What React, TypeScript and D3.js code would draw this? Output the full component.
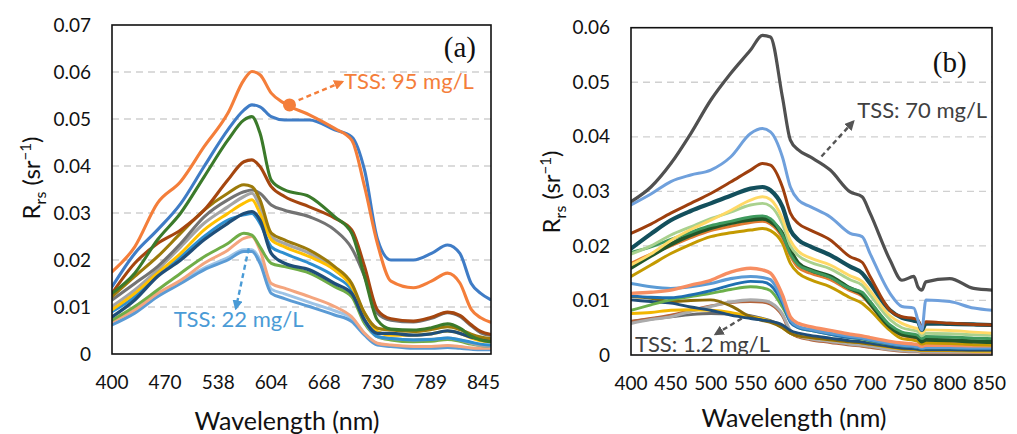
import React from 'react';
import * as d3 from 'd3';

// ---------- Panel (a) data ----------
const WL_A = [400, 430, 460, 490, 520, 550, 570, 580, 590, 604, 620, 650, 680, 700, 715, 730, 745, 770, 790, 807, 820, 832, 842, 852];
const X_TICKS_A = [400, 470, 538, 604, 668, 730, 789, 845];
const Y_TICKS_A = [0, 0.01, 0.02, 0.03, 0.04, 0.05, 0.06, 0.07];

const A_LIGHTBLUE = [0.0062, 0.0087, 0.0122, 0.015, 0.0179, 0.02, 0.0218, 0.0218, 0.0193, 0.0129, 0.0118, 0.0101, 0.0083, 0.0069, 0.004, 0.0019, 0.0016, 0.0012, 0.0012, 0.0014, 0.0012, 0.001, 0.0009, 0.0009];
const A_PALEBLUE = [0.0066, 0.0091, 0.0126, 0.0155, 0.0183, 0.0205, 0.0222, 0.0222, 0.02, 0.0138, 0.0128, 0.011, 0.0092, 0.0076, 0.0044, 0.0022, 0.0018, 0.0015, 0.0015, 0.0017, 0.0015, 0.0012, 0.0011, 0.0011];
const A_SALMON = [0.0069, 0.0094, 0.0129, 0.0157, 0.0193, 0.0221, 0.0246, 0.025, 0.0221, 0.015, 0.014, 0.0122, 0.0101, 0.0079, 0.0044, 0.0023, 0.0019, 0.0016, 0.0016, 0.0018, 0.0016, 0.0013, 0.0012, 0.0012];
const A_GREEN = [0.0072, 0.0101, 0.0136, 0.0172, 0.0207, 0.0235, 0.0257, 0.0253, 0.0228, 0.0193, 0.0186, 0.0172, 0.0143, 0.0122, 0.0065, 0.0037, 0.003, 0.0026, 0.0027, 0.0031, 0.0027, 0.0021, 0.0018, 0.0016];
const A_MEDBLUE = [0.009, 0.0122, 0.0172, 0.0207, 0.025, 0.0285, 0.0296, 0.0299, 0.0278, 0.0228, 0.0214, 0.0193, 0.0165, 0.0136, 0.0072, 0.0037, 0.0033, 0.003, 0.0031, 0.0034, 0.003, 0.0025, 0.0021, 0.0019];
const A_NAVY = [0.0079, 0.0115, 0.0165, 0.02, 0.0243, 0.0278, 0.0299, 0.0303, 0.0285, 0.0214, 0.0193, 0.0179, 0.015, 0.0129, 0.0072, 0.0044, 0.0044, 0.004, 0.0043, 0.0049, 0.0044, 0.0036, 0.0032, 0.003];
const A_GOLD = [0.0094, 0.0129, 0.0172, 0.0214, 0.0264, 0.0299, 0.0321, 0.0328, 0.0299, 0.0243, 0.0228, 0.0207, 0.0179, 0.0143, 0.0087, 0.0048, 0.004, 0.004, 0.0043, 0.0049, 0.0044, 0.0034, 0.0028, 0.0026];
const A_LIGHTGREY = [0.0101, 0.0136, 0.0179, 0.0228, 0.0278, 0.0313, 0.0335, 0.0342, 0.0313, 0.025, 0.0235, 0.0214, 0.0179, 0.0143, 0.0072, 0.0037, 0.0033, 0.003, 0.0031, 0.0034, 0.003, 0.0023, 0.0018, 0.0016];
const A_OLIVE = [0.0122, 0.0165, 0.0207, 0.0257, 0.0306, 0.0342, 0.036, 0.0356, 0.0328, 0.0257, 0.0243, 0.0221, 0.0186, 0.015, 0.0087, 0.0055, 0.0051, 0.0048, 0.0052, 0.0058, 0.0052, 0.0042, 0.0036, 0.0033];
const A_GREY = [0.0115, 0.015, 0.0186, 0.0235, 0.0292, 0.0328, 0.0345, 0.0349, 0.0342, 0.0317, 0.0306, 0.0292, 0.0264, 0.0225, 0.0165, 0.0087, 0.0072, 0.0068, 0.0076, 0.0088, 0.008, 0.006, 0.0045, 0.004];
const A_BROWN = [0.0129, 0.0193, 0.0235, 0.0264, 0.0306, 0.037, 0.0409, 0.0413, 0.0399, 0.0356, 0.0335, 0.0313, 0.0289, 0.0264, 0.0186, 0.0094, 0.0075, 0.007, 0.0078, 0.0089, 0.0082, 0.0062, 0.0048, 0.0042];
const A_DKGREEN = [0.0129, 0.0172, 0.0243, 0.03, 0.0377, 0.0455, 0.0498, 0.0505, 0.047, 0.037, 0.0349, 0.0335, 0.0292, 0.0257, 0.0165, 0.0072, 0.0053, 0.0051, 0.0056, 0.0064, 0.0055, 0.0038, 0.003, 0.0026];
const A_BLUE = [0.0143, 0.0214, 0.0264, 0.032, 0.0399, 0.0477, 0.0519, 0.053, 0.0526, 0.0505, 0.0498, 0.0498, 0.0477, 0.0462, 0.0391, 0.0245, 0.02, 0.02, 0.0214, 0.0232, 0.0214, 0.015, 0.0129, 0.0116];
const A_ORANGE = [0.0175, 0.0228, 0.0321, 0.0367, 0.0441, 0.0512, 0.0583, 0.0601, 0.0594, 0.0555, 0.0533, 0.0509, 0.048, 0.0455, 0.0356, 0.0235, 0.0155, 0.0141, 0.0155, 0.0172, 0.0151, 0.0095, 0.0077, 0.0068];

// ---------- Panel (b) data ----------
const WL_B = [400, 425, 450, 475, 500, 525, 550, 565, 575, 590, 600, 610, 625, 650, 675, 690, 700, 725, 740, 755, 760, 765, 770, 800, 830, 853];
const X_TICKS_B = [400, 450, 500, 550, 600, 650, 700, 750, 800, 850];
const Y_TICKS_B = [0, 0.01, 0.02, 0.03, 0.04, 0.05, 0.06];

const B_DKGREY_LOW = [0.0061, 0.0066, 0.007, 0.0074, 0.0076, 0.0075, 0.0072, 0.0067, 0.0063, 0.0053, 0.004, 0.0034, 0.003, 0.0025, 0.0021, 0.0019, 0.0017, 0.0012, 0.001, 0.0009, 0.0009, 0.0008, 0.0008, 0.0008, 0.0008, 0.0008];
const B_RUST = [0.0062, 0.0067, 0.0073, 0.0082, 0.009, 0.0096, 0.0098, 0.0097, 0.0093, 0.0072, 0.0042, 0.0033, 0.0028, 0.0023, 0.0018, 0.0016, 0.0014, 0.0009, 0.0007, 0.0006, 0.0006, 0.0005, 0.0005, 0.0005, 0.0005, 0.0005];
const B_LTGREY = [0.0058, 0.0065, 0.007, 0.008, 0.0089, 0.0097, 0.0101, 0.01, 0.0096, 0.0075, 0.0045, 0.0035, 0.003, 0.0025, 0.002, 0.0018, 0.0016, 0.001, 0.0008, 0.0007, 0.0007, 0.0006, 0.0006, 0.0006, 0.0006, 0.0006];
const B_GOLD_LOW = [0.0076, 0.0078, 0.0082, 0.0083, 0.0082, 0.0078, 0.007, 0.0066, 0.0062, 0.005, 0.004, 0.0035, 0.0032, 0.0028, 0.0024, 0.0022, 0.002, 0.0014, 0.0011, 0.001, 0.0009, 0.0008, 0.0008, 0.0008, 0.0007, 0.0007];
const B_OLIVE_LOW = [0.0107, 0.0104, 0.0098, 0.01, 0.0101, 0.009, 0.007, 0.0063, 0.006, 0.005, 0.004, 0.0035, 0.0032, 0.0028, 0.0024, 0.0022, 0.002, 0.0015, 0.0012, 0.0011, 0.001, 0.0009, 0.0009, 0.0009, 0.0009, 0.0009];
const B_NAVY_LOW = [0.0101, 0.0098, 0.0095, 0.0088, 0.0082, 0.0073, 0.0067, 0.0064, 0.0062, 0.0055, 0.0045, 0.004, 0.0036, 0.0031, 0.0026, 0.0024, 0.0022, 0.0016, 0.0013, 0.0012, 0.0011, 0.001, 0.001, 0.001, 0.0009, 0.0009];
const B_GREEN_LOW = [0.0082, 0.0092, 0.0101, 0.0107, 0.0113, 0.012, 0.0125, 0.0123, 0.0118, 0.0088, 0.0062, 0.005, 0.0045, 0.0038, 0.0032, 0.0029, 0.0026, 0.002, 0.0017, 0.0015, 0.0014, 0.0012, 0.0013, 0.0013, 0.0012, 0.0012];
const B_DKBLUE_LOW = [0.0108, 0.0106, 0.0105, 0.011, 0.0118, 0.0128, 0.0135, 0.0134, 0.0128, 0.0095, 0.006, 0.005, 0.0045, 0.0038, 0.0032, 0.003, 0.0027, 0.002, 0.0017, 0.0015, 0.0014, 0.0012, 0.0013, 0.0013, 0.0012, 0.0012];
const B_BLUE_LOW = [0.0131, 0.0125, 0.0122, 0.0125, 0.0131, 0.014, 0.0144, 0.0142, 0.0138, 0.01, 0.0064, 0.0052, 0.0047, 0.004, 0.0034, 0.0031, 0.0028, 0.0021, 0.0018, 0.0016, 0.0015, 0.0013, 0.0014, 0.0014, 0.0013, 0.0013];
const B_SALMON_LOW = [0.0113, 0.0115, 0.0119, 0.0128, 0.0137, 0.0152, 0.0159, 0.0156, 0.015, 0.011, 0.007, 0.0058, 0.0052, 0.0045, 0.0038, 0.0035, 0.0032, 0.0025, 0.0022, 0.002, 0.0019, 0.0016, 0.0018, 0.0018, 0.0017, 0.0017];
const B_GOLD = [0.0144, 0.0165, 0.0186, 0.0203, 0.0217, 0.0224, 0.0229, 0.0232, 0.0228, 0.0205, 0.0168, 0.015, 0.0138, 0.0125, 0.0105, 0.0095, 0.0082, 0.0045, 0.003, 0.0027, 0.0025, 0.002, 0.0022, 0.0021, 0.0019, 0.0018];
const B_ORANGE = [0.0168, 0.0185, 0.02, 0.0215, 0.0228, 0.0236, 0.0243, 0.0245, 0.024, 0.0215, 0.0182, 0.016, 0.015, 0.0138, 0.0118, 0.0108, 0.0092, 0.005, 0.0036, 0.0032, 0.003, 0.0024, 0.0027, 0.0026, 0.0024, 0.0023];
const B_DKGREEN = [0.016, 0.0182, 0.0203, 0.022, 0.0233, 0.0242, 0.0248, 0.025, 0.0245, 0.0222, 0.0192, 0.0168, 0.0156, 0.0144, 0.0122, 0.0112, 0.0095, 0.0052, 0.0038, 0.0034, 0.0032, 0.0025, 0.0028, 0.0027, 0.0025, 0.0024];
const B_GREEN = [0.0188, 0.0198, 0.0212, 0.0225, 0.0237, 0.0245, 0.0253, 0.0255, 0.025, 0.022, 0.0185, 0.0165, 0.0155, 0.0142, 0.0122, 0.0115, 0.0098, 0.0055, 0.0042, 0.0038, 0.0036, 0.003, 0.0034, 0.0033, 0.0031, 0.003];
const B_LTGREEN = [0.0185, 0.02, 0.022, 0.0235, 0.025, 0.0262, 0.0275, 0.0278, 0.0273, 0.024, 0.02, 0.0182, 0.017, 0.0158, 0.0138, 0.0128, 0.011, 0.0065, 0.005, 0.0045, 0.0043, 0.0035, 0.004, 0.0039, 0.0037, 0.0036];
const B_PALEYELLOW = [0.0165, 0.0185, 0.021, 0.023, 0.0247, 0.0265, 0.0284, 0.029, 0.0285, 0.025, 0.021, 0.019, 0.0178, 0.0165, 0.0145, 0.0135, 0.0118, 0.0072, 0.0058, 0.005, 0.0048, 0.004, 0.0046, 0.0045, 0.0042, 0.004];
const B_DKTEAL = [0.0195, 0.0222, 0.0247, 0.0264, 0.0278, 0.0292, 0.0305, 0.0308, 0.0302, 0.0272, 0.0229, 0.0211, 0.0199, 0.0183, 0.0162, 0.015, 0.0131, 0.0082, 0.0068, 0.0063, 0.0061, 0.0046, 0.0058, 0.0057, 0.0056, 0.0055];
const B_BROWN = [0.0223, 0.024, 0.026, 0.0278, 0.0296, 0.0317, 0.0339, 0.0351, 0.0348, 0.0308, 0.026, 0.0241, 0.0229, 0.0211, 0.018, 0.017, 0.0144, 0.0082, 0.007, 0.0067, 0.0064, 0.0052, 0.0061, 0.0058, 0.0056, 0.0055];
const B_LTBLUE = [0.0275, 0.0295, 0.0318, 0.033, 0.0339, 0.0363, 0.0406, 0.0415, 0.0409, 0.0363, 0.0308, 0.0284, 0.0272, 0.0253, 0.0223, 0.0217, 0.0186, 0.0113, 0.0089, 0.0086, 0.0064, 0.0046, 0.0101, 0.0098, 0.0086, 0.0082];
const B_DKGREY = [0.0281, 0.0308, 0.0351, 0.0406, 0.0467, 0.0516, 0.0559, 0.0586, 0.0583, 0.0473, 0.0394, 0.0376, 0.0363, 0.0339, 0.0299, 0.029, 0.026, 0.0174, 0.0137, 0.0144, 0.0125, 0.0119, 0.0134, 0.014, 0.0122, 0.0119];

// ---------- annotations (data coordinates) ----------
const A_DOT = { wl: 626, v: 0.053 };
const A_ARROW_95 = { from: [637, 0.054], to: [689, 0.0579] };
const A_LABEL_95 = { wl: 691, v: 0.0563, text: 'TSS: 95 mg/L' };
const A_ARROW_22 = { from: [576, 0.0225], to: [560, 0.0097] };
const A_LABEL_22 = { wl: 481, v: 0.0057, text: 'TSS: 22 mg/L' };
const A_TAG = { wl: 820, v: 0.0632, text: '(a)' };

const B_ARROW_70 = { from: [639, 0.0364], to: [679, 0.0428] };
const B_LABEL_70 = { wl: 684, v: 0.0434, text: 'TSS: 70 mg/L' };
const B_ARROW_12 = { from: [539, 0.0067], to: [506, 0.0038] };
const B_LABEL_12 = { wl: 405, v: 0.0005, text: 'TSS: 1.2 mg/L' };
const B_TAG = { wl: 800, v: 0.0519, text: '(b)' };

type Series = { values: number[]; color: string; width: number };

const SERIES_A: Series[] = [
  { values: A_PALEBLUE, color: '#9DC3E6', width: 3 },
  { values: A_LIGHTBLUE, color: '#5B9BD5', width: 3 },
  { values: A_SALMON, color: '#F4A57E', width: 3 },
  { values: A_GREEN, color: '#70AD47', width: 3 },
  { values: A_LIGHTGREY, color: '#A5A5A5', width: 3.2 },
  { values: A_MEDBLUE, color: '#2E8FD0', width: 3 },
  { values: A_GOLD, color: '#FFC000', width: 3 },
  { values: A_NAVY, color: '#1F4E79', width: 3.3 },
  { values: A_GREY, color: '#737373', width: 3.1 },
  { values: A_OLIVE, color: '#9C7A0A', width: 3.1 },
  { values: A_BROWN, color: '#A5460F', width: 3.1 },
  { values: A_DKGREEN, color: '#3B7A2A', width: 3.1 },
  { values: A_BLUE, color: '#3F7CC6', width: 3.1 },
  { values: A_ORANGE, color: '#F47E3A', width: 3.1 },
];

const SERIES_B: Series[] = [
  { values: B_DKGREY_LOW, color: '#6B6B6B', width: 2.9 },
  { values: B_RUST, color: '#B4633A', width: 2.9 },
  { values: B_LTGREY, color: '#ABABAB', width: 3.1 },
  { values: B_GOLD_LOW, color: '#F2B600', width: 2.9 },
  { values: B_OLIVE_LOW, color: '#8C6B08', width: 2.9 },
  { values: B_NAVY_LOW, color: '#1F4E79', width: 2.9 },
  { values: B_GREEN_LOW, color: '#6CB04B', width: 2.9 },
  { values: B_DKBLUE_LOW, color: '#1F6FB0', width: 2.9 },
  { values: B_BLUE_LOW, color: '#5B9BD5', width: 3.1 },
  { values: B_SALMON_LOW, color: '#F78E62', width: 3.4 },
  { values: B_GOLD, color: '#C49A00', width: 3 },
  { values: B_ORANGE, color: '#E27B32', width: 2.9 },
  { values: B_DKGREEN, color: '#22572A', width: 4.2 },
  { values: B_GREEN, color: '#3F9A5E', width: 2.9 },
  { values: B_LTGREEN, color: '#A9D18E', width: 2.9 },
  { values: B_PALEYELLOW, color: '#FFD966', width: 2.9 },
  { values: B_DKTEAL, color: '#134F5C', width: 4.2 },
  { values: B_BROWN, color: '#9E3F0E', width: 3 },
  { values: B_LTBLUE, color: '#6FA0DC', width: 3 },
  { values: B_DKGREY, color: '#505050', width: 3.2 },
];

const FONT = 'Lato, "Open Sans", sans-serif';

type Arrow = { from: number[]; to: number[] };
type Label = { wl: number; v: number; text: string };

type PanelProps = {
  id: string;
  left: number;
  top: number;
  width: number;
  height: number;
  x: (v: number) => number;
  xTicks: number[];
  yTicks: number[];
  yMax: number;
  wl: number[];
  series: Series[];
  tag: Label;
  arrows: { a: Arrow; color: string }[];
  labels: { l: Label; color: string }[];
  dot?: { wl: number; v: number; color: string };
  yLabelX: number;
  yLabelY: number;
  xLabelX: number;
  xLabelY: number;
};

function Panel(p: PanelProps) {
  const y = d3.scaleLinear().domain([0, p.yMax]).range([p.top + p.height, p.top]);
  const line = d3
    .line<[number, number]>()
    .x((d) => p.x(d[0]))
    .y((d) => y(d[1]))
    .curve(d3.curveMonotoneX);
  const clipId = `clip-${p.id}`;
  return (
    <g>
      <defs>
        <clipPath id={clipId}>
          <rect x={p.left} y={p.top} width={p.width} height={p.height} />
        </clipPath>
        {p.arrows.map((a, i) => (
          <marker
            key={i}
            id={`arr-${p.id}-${i}`}
            viewBox="0 0 10 10"
            refX="8"
            refY="5"
            markerWidth="4.2"
            markerHeight="4.2"
            orient="auto-start-reverse"
            markerUnits="strokeWidth"
          >
            <path d="M0,0 L10,5 L0,10 z" fill={a.color} />
          </marker>
        ))}
      </defs>
      {p.yTicks
        .filter((t) => t > 0 && t < p.yMax)
        .map((t) => (
          <line
            key={t}
            x1={p.left}
            x2={p.left + p.width}
            y1={y(t)}
            y2={y(t)}
            stroke="#D0D0D0"
            strokeWidth={1.3}
            strokeDasharray="7,5"
          />
        ))}
      <g clipPath={`url(#${clipId})`}>
        {p.series.map((s, i) => (
          <path
            key={i}
            d={line(p.wl.map((w, j) => [w, s.values[j]] as [number, number])) || ''}
            fill="none"
            stroke={s.color}
            strokeWidth={s.width}
            strokeLinejoin="round"
            strokeLinecap="round"
          />
        ))}
      </g>
      <rect x={p.left} y={p.top} width={p.width} height={p.height} fill="none" stroke="#111" strokeWidth={1.6} />
      {p.yTicks.map((t) => (
        <text
          key={t}
          x={p.left - 21}
          y={y(t)}
          dy="0.35em"
          textAnchor="end"
          fontFamily={FONT}
          fontSize={19}
          fill="#111"
        >
          {t === 0 ? '0' : d3.format('.2f')(t)}
        </text>
      ))}
      {p.xTicks.map((t) => (
        <text
          key={t}
          x={p.x(t)}
          y={p.top + p.height + 28}
          dy="0.35em"
          textAnchor="middle"
          fontFamily={FONT}
          fontSize={19}
          fill="#111"
        >
          {t}
        </text>
      ))}
      <text
        transform={`translate(${p.yLabelX},${p.yLabelY}) rotate(-90)`}
        textAnchor="middle"
        fontFamily={FONT}
        fontSize={24}
        fill="#111"
        dy="0.35em"
      >
        R<tspan fontSize={16} dy="6">rs</tspan>
        <tspan dy="-6"> (sr</tspan>
        <tspan fontSize={15} dy="-9">−1</tspan>
        <tspan dy="9">)</tspan>
      </text>
      <text x={p.xLabelX} y={p.xLabelY} textAnchor="middle" fontFamily={FONT} fontSize={25} fill="#111">
        Wavelength (nm)
      </text>
      <text
        x={p.x(p.tag.wl)}
        y={y(p.tag.v)}
        textAnchor="middle"
        fontFamily='"Liberation Serif", "DejaVu Serif", serif'
        fontSize={29}
        fill="#111"
      >
        {p.tag.text}
      </text>
      {p.arrows.map((a, i) => (
        <line
          key={i}
          x1={p.x(a.a.from[0])}
          y1={y(a.a.from[1])}
          x2={p.x(a.a.to[0])}
          y2={y(a.a.to[1])}
          stroke={a.color}
          strokeWidth={2.4}
          strokeDasharray="5,3.5"
          markerEnd={`url(#arr-${p.id}-${i})`}
        />
      ))}
      {p.dot && <circle cx={p.x(p.dot.wl)} cy={y(p.dot.v)} r={6.5} fill={p.dot.color} />}
      {p.labels.map((l, i) => (
        <text key={i} x={p.x(l.l.wl)} y={y(l.l.v)} fontFamily={FONT} fontSize={22} fill={l.color}>
          {l.l.text}
        </text>
      ))}
    </g>
  );
}

export default function App() {
  const aLeft = 112;
  const aWidth = 379;
  const aEnd = 853;
  const step = aWidth / 7.14;
  const xA = d3
    .scaleLinear()
    .domain([...X_TICKS_A, aEnd])
    .range([...X_TICKS_A.map((_, i) => aLeft + i * step), aLeft + aWidth]);

  const bLeft = 631;
  const bWidth = 361;
  const xB = d3.scaleLinear().domain([400, 853]).range([bLeft, bLeft + bWidth]);

  return (
    <svg
      width={1017}
      height={434}
      viewBox="0 0 1017 434"
      style={{ position: 'absolute', left: 0, top: 0, background: '#fff' }}
    >
      <rect x={0} y={0} width={1017} height={434} fill="#fff" />
      <Panel
        id="a"
        left={aLeft}
        top={25}
        width={aWidth}
        height={329}
        x={xA}
        xTicks={X_TICKS_A}
        yTicks={Y_TICKS_A}
        yMax={0.07}
        wl={WL_A}
        series={SERIES_A}
        tag={A_TAG}
        arrows={[
          { a: A_ARROW_95, color: '#F47E3A' },
          { a: A_ARROW_22, color: '#4A9BD6' },
        ]}
        labels={[
          { l: A_LABEL_95, color: '#F47E3A' },
          { l: A_LABEL_22, color: '#4A9BD6' },
        ]}
        dot={{ wl: A_DOT.wl, v: A_DOT.v, color: '#F47E3A' }}
        yLabelX={32}
        yLabelY={178}
        xLabelX={287}
        xLabelY={430}
      />
      <Panel
        id="b"
        left={bLeft}
        top={27.7}
        width={bWidth}
        height={327.3}
        x={xB}
        xTicks={X_TICKS_B}
        yTicks={Y_TICKS_B}
        yMax={0.06}
        wl={WL_B}
        series={SERIES_B}
        tag={B_TAG}
        arrows={[
          { a: B_ARROW_70, color: '#555555' },
          { a: B_ARROW_12, color: '#555555' },
        ]}
        labels={[
          { l: B_LABEL_70, color: '#404040' },
          { l: B_LABEL_12, color: '#404040' },
        ]}
        yLabelX={552}
        yLabelY={192}
        xLabelX={794}
        xLabelY={427}
      />
    </svg>
  );
}
